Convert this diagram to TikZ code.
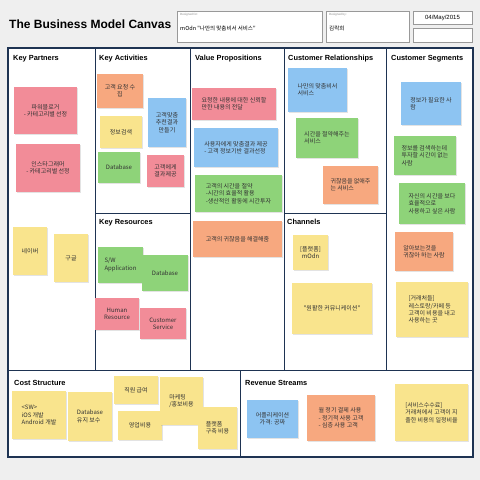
\documentclass[tikz,border=0pt]{standalone}
\usepackage{fontspec}
\setmainfont{Liberation Sans}
\newfontfamily\kr{Noto Sans CJK KR}
\usetikzlibrary{shadows}

\definecolor{navy}{HTML}{1E3352}
\definecolor{pagegray}{HTML}{EFEFEF}
\definecolor{notepink}{HTML}{F28C98}
\definecolor{noteorange}{HTML}{F7A87F}
\definecolor{noteyellow}{HTML}{F9E48D}
\definecolor{noteblue}{HTML}{8DC4F2}
\definecolor{notegreen}{HTML}{8ED379}

\tikzset{
  note/.style={rectangle, inner sep=2pt, text=black!80, align=center,
    font=\kr\fontsize{6}{7.4}\selectfont,
    drop shadow={opacity=0.22, shadow xshift=0.6pt, shadow yshift=-0.8pt}},
  section/.style={anchor=west, inner sep=0pt, font=\bfseries\fontsize{7.4}{9}\selectfont},
  infobox/.style={rectangle, draw=black!40, fill=white, line width=0.6pt,
    drop shadow={opacity=0.15, shadow xshift=0.5pt, shadow yshift=-0.6pt}},
  frame/.style={draw=navy, line width=1.6pt},
  divider/.style={draw=navy, line width=1pt}
}

\begin{document}
\begin{tikzpicture}[x=1pt, y=-1pt]

    \fill[pagegray] (0,0) rectangle (480,480);
    \useasboundingbox (0,0) rectangle (480,480);

    % header
    \node (title) [anchor=west, inner sep=0pt, font=\bfseries\fontsize{12}{14}\selectfont] at (9,24) {The Business Model Canvas};
    \node (forbox) [infobox, minimum width=145, minimum height=31] at (249.5,26.5) {};
    \node (bybox) [infobox, minimum width=83, minimum height=31] at (367.5,26.5) {};
    \node (datebox) [infobox, minimum width=59, minimum height=13] at (442.5,17.5) {};
    \node (blankbox) [infobox, minimum width=59, minimum height=14] at (442.5,35) {};
    \node (forlabel) [anchor=west, inner sep=0pt, text=black!45, font=\fontsize{3}{3.5}\selectfont] at (180,15) {Designed for:};
    \node (fortext) [anchor=west, inner sep=0pt, font=\kr\fontsize{5.5}{6.5}\selectfont] at (180,28) {mOdn "나만의 맞춤비서 서비스"};
    \node (bylabel) [anchor=west, inner sep=0pt, text=black!45, font=\fontsize{3}{3.5}\selectfont] at (329,15) {Designed by:};
    \node (bytext) [anchor=west, inner sep=0pt, font=\kr\fontsize{5.5}{6.5}\selectfont] at (329,28) {김락희};
    \node (datetext) [inner sep=0pt, font=\fontsize{6}{7}\selectfont] at (datebox) {04/May/2015};

    % canvas grid
    \fill[white] (8,48) rectangle (473,457);
    \draw[divider] (95,48) -- (95,370);
    \draw[divider] (190,48) -- (190,370);
    \draw[divider] (284,48) -- (284,370);
    \draw[divider] (386,48) -- (386,370);
    \draw[divider] (95,213) -- (190,213);
    \draw[divider] (284,213) -- (386,213);
    \draw[divider] (8,370) -- (473,370);
    \draw[divider] (240,370) -- (240,457);
    \draw[frame] (8,48) rectangle (473,457);

    % section titles
    \node (kpTitle) [section] at (13,59) {Key Partners};
    \node (kaTitle) [section] at (99,59) {Key Activities};
    \node (vpTitle) [section] at (195,59) {Value Propositions};
    \node (crTitle) [section] at (288,59) {Customer Relationships};
    \node (csTitle) [section] at (391,59) {Customer Segments};
    \node (krTitle) [section] at (99,223) {Key Resources};
    \node (chTitle) [section] at (287,222) {Channels};
    \node (costTitle) [section] at (14,383) {Cost Structure};
    \node (revTitle) [section] at (245,383) {Revenue Streams};

    % key partners
    \node (kp1) [note, fill=notepink, minimum width=63, minimum height=47] at (45.5,110.5) {파워블로거\\- 카테고리별 선정};
    \node (kp2) [note, fill=notepink, minimum width=64, minimum height=48] at (48,168) {인스타그래머\\- 카테고리별 선정};
    \node (kp3) [note, fill=noteyellow, minimum width=34, minimum height=48] at (30,251) {네이버};
    \node (kp4) [note, fill=noteyellow, minimum width=34, minimum height=48] at (71,258) {구글};

    % key activities
    \node (ka1) [note, fill=noteorange, minimum width=46, minimum height=34] at (120,91) {고객 요청 수\\집};
    \node (ka2) [note, fill=noteyellow, minimum width=42, minimum height=32] at (121,132) {정보검색};
    \node (ka3) [note, fill=noteblue, minimum width=38, minimum height=49] at (167,122.5) {고객맞춤\\추천결과\\만들기};
    \node (ka4) [note, fill=notegreen, minimum width=42, minimum height=31] at (119,167.5) {Database};
    \node (ka5) [note, fill=notepink, minimum width=37, minimum height=32] at (165.5,171) {고객에게\\결과제공};

    % key resources
    \node (kr1) [note, fill=notegreen, align=left, minimum width=45, minimum height=36] at (120.5,265) {S/W\\Application};
    \node (kr2) [note, fill=notegreen, minimum width=46, minimum height=36] at (165,273) {Database};
    \node (kr3) [note, fill=notepink, minimum width=44, minimum height=32] at (117,314) {Human\\Resource};
    \node (kr4) [note, fill=notepink, minimum width=46, minimum height=31] at (163,323.5) {Customer\\Service};

    % value propositions
    \node (vp1) [note, fill=notepink, align=left, minimum width=84, minimum height=32] at (234,104) {요청한 내용에 대한 신뢰할\\만한 내용의 전달};
    \node (vp2) [note, fill=noteblue, align=left, minimum width=84, minimum height=39] at (236,147.5) {사용자에게 맞춤결과 제공\\- 고객 정보기반 결과선정};
    \node (vp3) [note, fill=notegreen, align=left, minimum width=87, minimum height=37] at (238.5,193.5) {고객의 시간을 절약\\-시간의 효율적 활용\\-생산적인 활동에 시간투자};
    \node (vp4) [note, fill=noteorange, minimum width=89, minimum height=36] at (237.5,239) {고객의 귀찮음을 해결해줌};

    % customer relationships
    \node (cr1) [note, fill=noteblue, align=left, minimum width=59, minimum height=44] at (317.5,90) {나만의 맞춤비서\\서비스};
    \node (cr2) [note, fill=notegreen, align=left, minimum width=62, minimum height=40] at (327,138) {시간을 절약해주는\\서비스};
    \node (cr3) [note, fill=noteorange, align=left, minimum width=55, minimum height=38] at (350.5,185) {귀찮음을 없애주\\는 서비스};

    % channels
    \node (ch1) [note, fill=noteyellow, minimum width=35, minimum height=35] at (310.5,252.5) {[플랫폼]\\mOdn};
    \node (ch2) [note, fill=noteyellow, minimum width=80, minimum height=51] at (332,308.5) {"원활한 커뮤니케이션"};

    % customer segments
    \node (cs1) [note, fill=noteblue, align=left, minimum width=60, minimum height=43] at (431,103.5) {정보가 필요한 사\\람};
    \node (cs2) [note, fill=notegreen, align=left, minimum width=62, minimum height=39] at (425,155.5) {정보를 검색하는데\\투자할 시간이 없는\\사람};
    \node (cs3) [note, fill=notegreen, align=left, minimum width=66, minimum height=41] at (432,203.5) {자신의 시간을 보다\\효율적으로\\사용하고 싶은 사람};
    \node (cs4) [note, fill=noteorange, align=left, minimum width=58, minimum height=39] at (424,251.5) {알아보는것을\\귀찮아 하는 사람};
    \node (cs5) [note, fill=noteyellow, align=left, minimum width=72, minimum height=55] at (432,309.5) {[거래처들]\\레스토랑/카페 등\\고객이 비용을 내고\\사용하는 곳};

    % cost structure
    \node (cost1) [note, fill=noteyellow, align=left, minimum width=54, minimum height=48] at (39,415) {<SW>\\iOS 개발\\Android 개발};
    \node (cost2) [note, fill=noteyellow, align=left, minimum width=44, minimum height=49] at (90,416.5) {Database\\유지 보수};
    \node (cost3) [note, fill=noteyellow, minimum width=44, minimum height=28] at (136,390) {직원 급여};
    \node (cost4) [note, fill=noteyellow, minimum width=44, minimum height=29] at (140,425.5) {영업비용};
    \node (cost5) [note, fill=noteyellow, align=left, minimum width=43, minimum height=48] at (181.5,401) {마케팅\\/홍보비용};
    \node (cost6) [note, fill=noteyellow, align=left, minimum width=39, minimum height=42] at (217.5,428) {플랫폼\\구축 비용};

    % revenue streams
    \node (rev1) [note, fill=noteblue, minimum width=51, minimum height=38] at (272.5,419) {어플리케이션\\가격: 공짜};
    \node (rev2) [note, fill=noteorange, align=left, minimum width=68, minimum height=46] at (341,418) {월 정기 결제 사용\\- 정기적 사용 고객\\- 심층 사용 고객};
    \node (rev3) [note, fill=noteyellow, align=left, minimum width=73, minimum height=57] at (431.5,412.5) {[서비스수수료]\\거래처에서 고객이 지\\출한 비용의 일정비율};

\end{tikzpicture}
\end{document}
